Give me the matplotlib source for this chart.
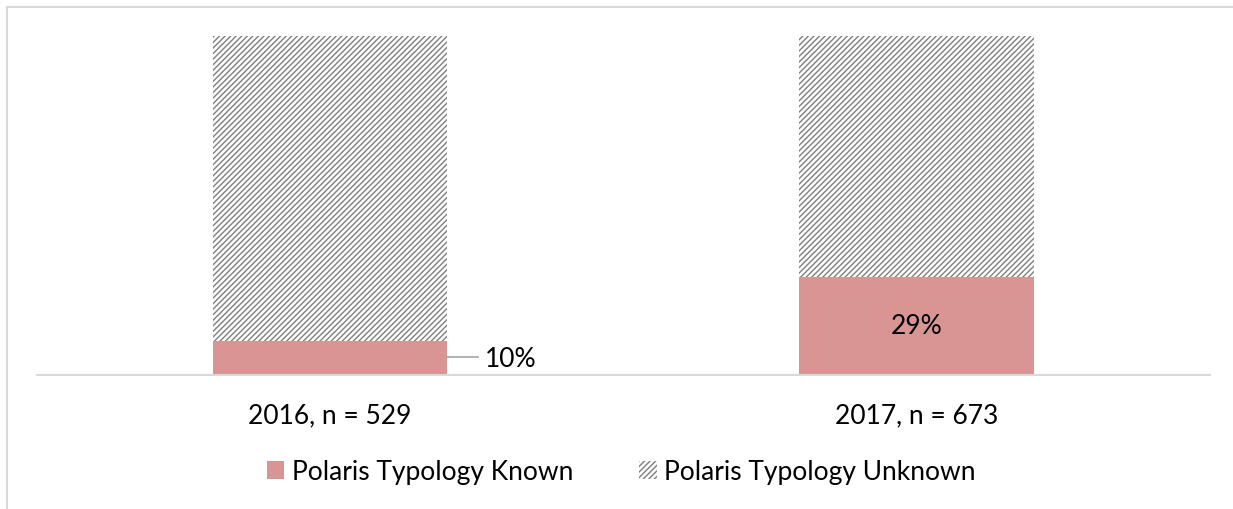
import matplotlib.pyplot as plt
from matplotlib.patches import Patch
from matplotlib.lines import Line2D

categories = ['2016, n = 529', '2017, n = 673']
known = [10, 29]
unknown = [90, 71]
series_names = ['Polaris Typology Known', 'Polaris Typology Unknown']

plt.rcParams['font.family'] = ['Lato', 'DejaVu Sans']
plt.rcParams['hatch.linewidth'] = 1.0

fig = plt.figure(figsize=(12.33, 5.10), dpi=100)
ax = fig.add_axes([0.030, 0.2627, 0.951, 0.665])

pink = '#D99594'
fs = 19
x = range(len(categories))
ax.bar(x, known, width=0.4, color=pink, linewidth=0)
ax.bar(x, unknown, width=0.4, bottom=known, color='white',
       edgecolor='#7f7f7f', hatch='//////', linewidth=0)

ax.set_xlim(-0.5, 1.5)
ax.set_ylim(0, 100)
for s in ['top', 'right', 'left']:
    ax.spines[s].set_visible(False)
ax.spines['bottom'].set_color('#D9D9D9')
ax.spines['bottom'].set_linewidth(1.5)
ax.set_yticks([])
ax.set_xticks(list(x))
ax.set_xticklabels(categories, fontsize=fs)
ax.tick_params(axis='x', length=0, pad=20)

# data labels
ax.plot([0.2, 0.253], [known[0] / 2 + 0.2, known[0] / 2 + 0.2], color='#A6A6A6', lw=1.2)
ax.text(0.264, known[0] / 2, f'{known[0]}%', fontsize=fs, va='center', ha='left')
ax.text(1, known[1] / 2, f'{known[1]}%', fontsize=fs, va='center', ha='center')

handles = [Patch(facecolor=pink, linewidth=0, label=series_names[0]),
           Patch(facecolor='white', edgecolor='#7f7f7f', hatch='//////', linewidth=0,
                 label=series_names[1])]
fig.legend(handles=handles, loc='center', bbox_to_anchor=(0.504, 0.073), ncol=2,
           frameon=False, fontsize=fs, handlelength=0.65, handleheight=0.65,
           handletextpad=0.3, columnspacing=2.5)

# chart border (top and left only visible)
fig.add_artist(Line2D([7 / 1233, 1.0], [1 - 8 / 510, 1 - 8 / 510], transform=fig.transFigure,
                      color='#D9D9D9', lw=1.5))
fig.add_artist(Line2D([7 / 1233, 7 / 1233], [0, 1 - 8 / 510], transform=fig.transFigure,
                      color='#D9D9D9', lw=1.5))

fig.savefig('out.png', dpi=100)
